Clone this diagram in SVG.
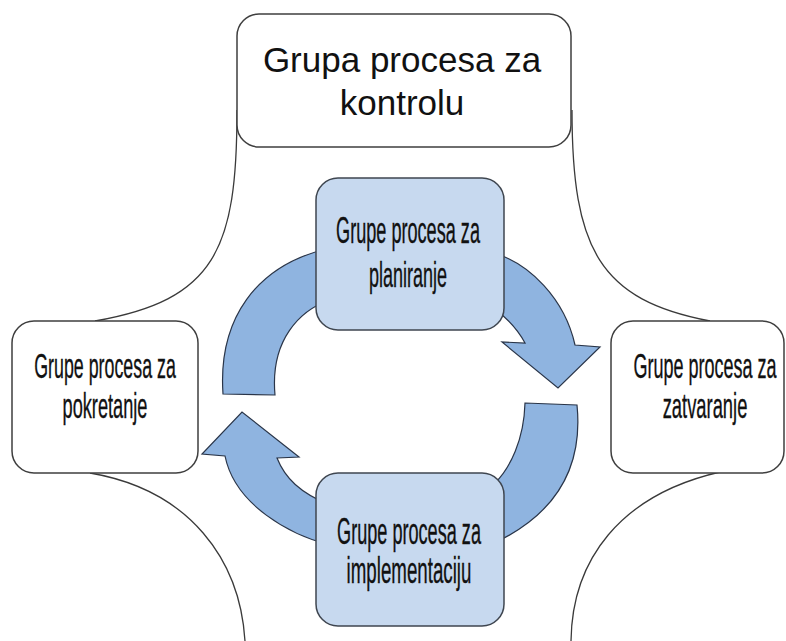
<svg xmlns="http://www.w3.org/2000/svg" width="786" height="641" viewBox="0 0 786 641">
<style>
.bg{fill:#ffffff}
.outline{fill:none;stroke:#3a3a3a;stroke-width:1.3}
.arrow{fill:#8fb4e0;stroke:#2a3548;stroke-width:1.2;stroke-linejoin:miter}
.wbox{fill:#ffffff;stroke:#3f3f3f;stroke-width:1.5}
.bbox{fill:#c7d9ef;stroke:#3f4650;stroke-width:1.5}
.t{font-family:"Liberation Sans",Arial,sans-serif;fill:#111111;text-anchor:middle}
.big{font-size:35px}
.small{font-size:36px;stroke:#111111;stroke-width:0.35}
</style>
<rect class="bg" x="0" y="0" width="786" height="641"/>
<g id="connectors">
  <path class="outline" d="M 237,110 C 237,250 215,300 95,321"/>
  <path class="outline" d="M 572,110 C 572,250 600,300 710,321"/>
  <path class="outline" d="M 90,473 C 190,490 240,560 245,641"/>
  <path class="outline" d="M 720,472 C 620,495 572,560 571,641"/>
  <path class="arrow" d="M 490,252 C 530,262 565,300 575,345 L 600,347 L 558,388 L 502,342 L 525,343 C 518,330 505,316 490,305 Z"/>
  <path class="arrow" d="M 525,403 L 577,405 C 582,455 568,510 490,545 L 485,500 L 495,483 C 510,468 524,440 525,403 Z"/>
  <path class="arrow" d="M 330,545 C 290,535 235,505 225,456 L 202,454 L 242,412 L 299,457 L 277,458 C 285,478 300,493 330,505 Z"/>
  <path class="arrow" d="M 223,394 C 218,320 255,265 330,248 L 330,300 C 300,310 270,340 275,395 Z"/>
</g>
<g id="kontrola">
  <rect class="wbox" x="237" y="14" width="334" height="133" rx="22" ry="22"/>
  <text class="t big" x="402" y="72">Grupa procesa za</text>
  <text class="t big" x="402" y="115">kontrolu</text>
</g>
<g id="pokretanje">
  <rect class="wbox" x="12" y="321" width="186" height="152" rx="22" ry="22"/>
  <text class="t small" transform="translate(105,378) scale(0.495,1)">Grupe procesa za</text>
  <text class="t small" transform="translate(105,418) scale(0.505,1)">pokretanje</text>
</g>
<g id="zatvaranje">
  <rect class="wbox" x="611" y="321" width="173" height="152" rx="22" ry="22"/>
  <text class="t small" transform="translate(705,378) scale(0.5,1)">Grupe procesa za</text>
  <text class="t small" transform="translate(705,418) scale(0.51,1)">zatvaranje</text>
</g>
<g id="planiranje">
  <rect class="bbox" x="316" y="178" width="188" height="152" rx="22" ry="22"/>
  <text class="t small" transform="translate(408,243) scale(0.503,1)">Grupe procesa za</text>
  <text class="t small" transform="translate(408,287) scale(0.5,1)">planiranje</text>
</g>
<g id="implementacija">
  <rect class="bbox" x="316" y="473" width="188" height="153" rx="22" ry="22"/>
  <text class="t small" transform="translate(409,544) scale(0.503,1)">Grupe procesa za</text>
  <text class="t small" transform="translate(409,583) scale(0.52,1)">implementaciju</text>
</g>
</svg>
